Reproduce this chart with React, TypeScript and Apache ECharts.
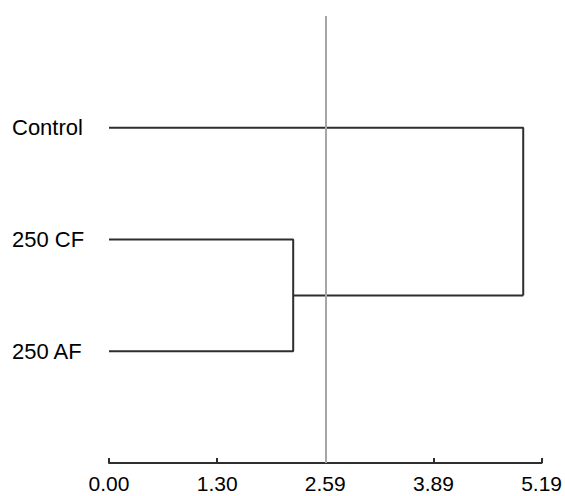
import React, { useEffect, useRef } from "react";
import * as echarts from "echarts";

// Leaves (top to bottom) and their y positions on the value axis
const leafNames = ["Control", "250 CF", "250 AF"];
const leafY = [3, 2, 1];
// Merge heights (distance)
const mergeCFAF = 2.21;
const mergeAll = 4.97;
// Cut-off line
const cutLine = 2.595;
// X axis ticks
const xTickLabels = ["0.00", "1.30", "2.59", "3.89", "5.19"];
const xMax = 5.19;

export default function App() {
  const ref = useRef<HTMLDivElement>(null);
  useEffect(() => {
    if (!ref.current) return;
    const chart = echarts.init(ref.current, null, { renderer: "svg" });
    const font = "Liberation Sans, Arial, sans-serif";
    const lineColor = "#2e2e2e";
    const midY = (leafY[1] + leafY[2]) / 2;
    const segs: number[][][] = [
      [[0, leafY[1]], [mergeCFAF, leafY[1]], [mergeCFAF, leafY[2]], [0, leafY[2]]],
      [[mergeCFAF, midY], [mergeAll, midY]],
      [[0, leafY[0]], [mergeAll, leafY[0]], [mergeAll, midY]],
    ];
    const series: any[] = segs.map((d) => ({
      type: "line",
      data: d,
      symbol: "none",
      lineStyle: { color: lineColor, width: 2 },
      silent: true,
    }));
    series.push({
      type: "line",
      data: [],
      markLine: {
        symbol: "none",
        silent: true,
        label: { show: false },
        lineStyle: { color: "#a6a6a6", width: 2, type: "solid" },
        data: [{ xAxis: cutLine }],
      },
    });
    chart.setOption({
      animation: false,
      backgroundColor: "#ffffff",
      grid: { left: 109, right: 21, top: 16, bottom: 33 },
      xAxis: {
        type: "value",
        min: 0,
        max: xMax,
        interval: xMax / 4,
        axisLine: { show: true, lineStyle: { color: lineColor, width: 2 } },
        axisTick: { show: true, inside: true, length: 5, lineStyle: { color: lineColor, width: 2 } },
        splitLine: { show: false },
        axisLabel: {
          color: "#000",
          fontFamily: font,
          fontSize: 21,
          margin: 10,
          showMaxLabel: true,
          showMinLabel: true,
          formatter: (_v: number, i: number) => xTickLabels[i] ?? "",
        },
      },
      yAxis: {
        type: "value",
        min: 0,
        max: 4,
        interval: 1,
        axisLine: { show: false },
        axisTick: { show: false },
        splitLine: { show: false },
        axisLabel: {
          color: "#000",
          fontFamily: font,
          fontSize: 22,
          align: "left",
          margin: 97,
          formatter: (v: number) => {
            const idx = leafY.indexOf(Math.round(v));
            return idx >= 0 ? leafNames[idx] : "";
          },
        },
      },
      series,
    });
    return () => chart.dispose();
  }, []);
  return (
    <div
      ref={ref}
      style={{ position: "absolute", left: 0, top: 0, width: 565, height: 496 }}
    />
  );
}
